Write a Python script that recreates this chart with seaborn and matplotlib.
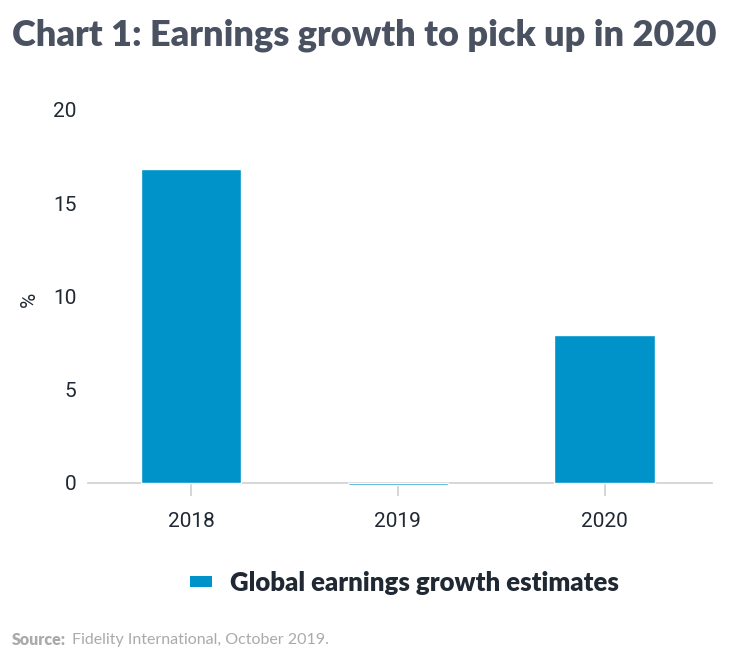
import matplotlib
matplotlib.use('Agg')
import matplotlib.pyplot as plt
import seaborn as sns
import pandas as pd
from matplotlib.patches import Patch

# data
years = ['2018', '2019', '2020']
growth = [16.8, -0.1, 7.9]
series_name = 'Global earnings growth estimates'
y_ticks = [0, 5, 10, 15, 20]

BAR = '#0093c9'
DARK = '#1f2833'
TITLE = '#4a5261'
GREY = '#d0d0d0'

sns.set_theme(style='white')
plt.rcParams['font.family'] = ['Roboto', 'DejaVu Sans']

df = pd.DataFrame({'year': years, 'growth': growth})

fig = plt.figure(figsize=(7.31, 6.61), dpi=100)
ax = fig.add_axes([0.12, 0.261, 0.854, 0.573])

sns.barplot(data=df, x='year', y='growth', color=BAR, width=0.485,
            saturation=1, ax=ax)

ax.set_xlim(-0.5, 2.52)
ax.set_ylim(-0.3, 20)
ax.set_yticks(y_ticks)
ax.set_xlabel('')
ax.set_ylabel('%', fontsize=15, color=DARK, labelpad=10)

for s in ['top', 'right', 'left']:
    ax.spines[s].set_visible(False)
ax.spines['bottom'].set_position(('data', 0))
ax.spines['bottom'].set_color(GREY)
ax.spines['bottom'].set_linewidth(1.2)
ax.spines['bottom'].set_zorder(0)

ax.tick_params(axis='y', length=0, labelsize=15, labelcolor=DARK, pad=8)
ax.tick_params(axis='x', length=9, width=1.2, color=GREY, labelsize=15,
               labelcolor=DARK, pad=12, bottom=True, direction='out')

fig.text(0.016, 0.947, 'Chart 1: Earnings growth to pick up in 2020',
         fontsize=26, fontweight='heavy', color=TITLE, family='Lato',
         va='center', ha='left')

handle = Patch(facecolor=BAR, edgecolor='none')
fig.legend([handle], [series_name], loc='center', bbox_to_anchor=(0.553, 0.118),
           frameon=False, handlelength=0.85, handleheight=0.3,
           handletextpad=0.7,
           prop={'family': 'Lato', 'weight': 'heavy', 'size': 18.5})
for t in fig.legends[0].get_texts():
    t.set_color(DARK)

fig.text(0.016, 0.032, 'Source:', fontsize=11.5, fontweight='heavy',
         color='#aaaaaa', family='Lato', va='center')
fig.text(0.099, 0.032, 'Fidelity International, October 2019.', fontsize=11.5,
         color='#aaaaaa', family='Lato', va='center')

fig.savefig('out.png', dpi=100)
